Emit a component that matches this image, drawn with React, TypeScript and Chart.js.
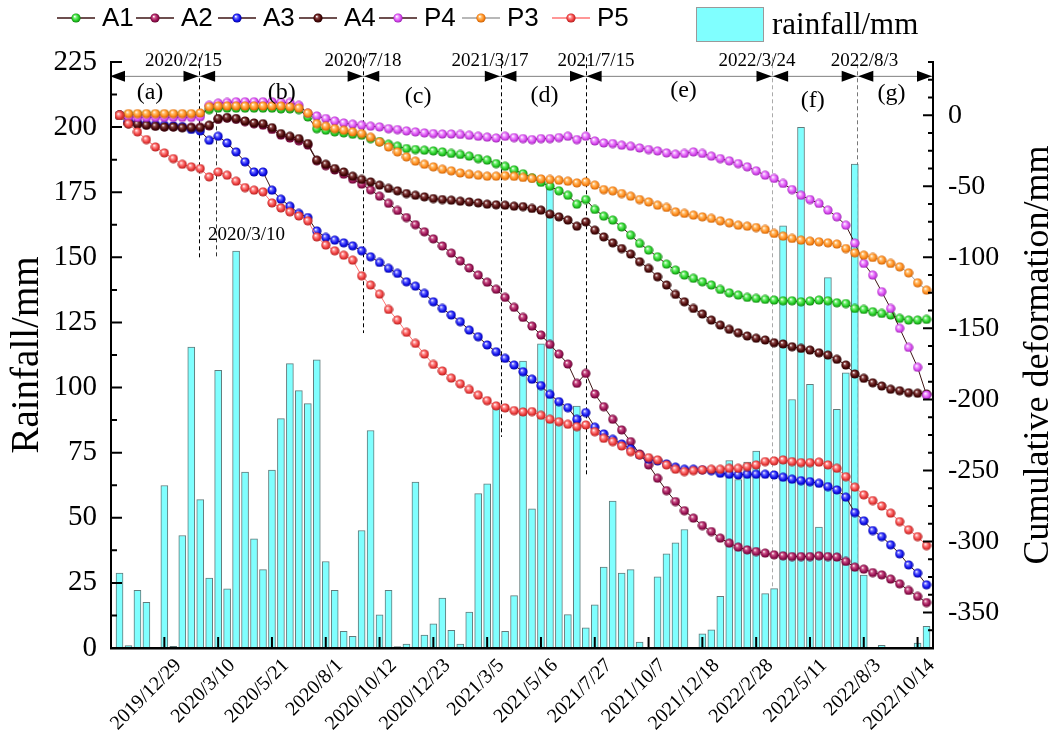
import React, { useEffect, useRef } from 'react';
import { Chart, registerables } from 'chart.js';
Chart.register(...registerables);

// ---- x categories: 12-day sampling index 0..90; labelled ticks ----
const tickIndex = [5, 11, 17, 23, 29, 35, 41, 47, 53, 59, 65, 71, 77, 83, 89];
const tickLabels = ['2019/12/29', '2020/3/10', '2020/5/21', '2020/8/1', '2020/10/12', '2020/12/23', '2021/3/5', '2021/5/16', '2021/7/27', '2021/10/7', '2021/12/18', '2022/2/28', '2022/5/11', '2022/8/3', '2022/10/14'];
const leftTicks = [0, 25, 50, 75, 100, 125, 150, 175, 200, 225];
const rightTicks = [0, -50, -100, -150, -200, -250, -300, -350];

// ---- rainfall (mm) ----
const rainfall = [28.8, 0.9, 22.1, 17.5, 0, 62.4, 0.6, 43.2, 115.5, 57,
  26.8, 106.6, 22.7, 152.4, 67.5, 41.9, 30.1, 68.3, 88.1, 109.2,
  98.8, 93.8, 110.6, 33.2, 22.1, 6.4, 4.5, 45.1, 83.5, 12.7,
  22.1, 0.5, 1.5, 63.7, 5, 9.3, 19.2, 6.8, 1.5, 13.8,
  59.3, 63, 92.9, 6.4, 20.1, 110.2, 53.4, 116.8, 176.5, 93.5,
  12.8, 92.9, 7.7, 16.6, 31.1, 56.4, 28.8, 30.1, 2.3, 0,
  27.3, 36.2, 40.4, 45.5, 0, 5.4, 7, 19.8, 72, 64.7,
  71.4, 75.6, 20.9, 22.8, 162.1, 95.4, 199.9, 101.2, 46.4, 142.2,
  91.6, 105.7, 185.8, 28, 0, 1, 0, 0.3, 0, 1.9,
  8.3];

// ---- cumulative deformation (mm) ----
const A1 = [0, 0.5, 0.5, 0.5, 0.5, 0.5, 0.5, 0.5, 0.5, 0.5,
  4, 5, 5, 5, 5, 5, 5, 5, 4.5, 4.5,
  4, -1.2, -9.4, -10.5, -11.7, -12.4, -13.4, -14.1, -16.4, -18.5,
  -20.4, -21.8, -23.4, -24.1, -24.6, -25.1, -25.8, -26.9, -27.6, -28.8,
  -30.5, -31.6, -34, -35.9, -38.4, -41.2, -44, -47.2, -49.9, -53.2,
  -56.3, -62.6, -59.3, -66.3, -71, -73.8, -78.6, -84.4, -90.2, -94.9,
  -99.6, -104.8, -109, -112.5, -114.8, -117.2, -119.5, -122.6, -125, -126.6,
  -128.2, -128.9, -129.6, -130.1, -130.6, -130.6, -131.3, -130.8, -130.1, -130.6,
  -132, -132.5, -136, -136.7, -138.3, -139.5, -140.6, -143, -144.2, -144.2,
  -143.7];
const A2 = [0, -5.5, -6, -6.8, -7.5, -8, -8, -8.5, -8.5, -8.5,
  -7.5, -2.8, -2, -2.8, -4.5, -6, -7, -10, -14, -16,
  -18, -21, -32, -35.5, -38.5, -41.5, -45, -48.5, -52.5, -57,
  -62, -67, -72, -77, -82, -87, -92, -97, -102.5, -107.5,
  -112.5, -117.5, -122.5, -128.2, -135.2, -142.3, -148.4, -154.7, -161.3, -168.1,
  -175.1, -188.7, -181.7, -196.2, -205.1, -214, -221.5, -229.7, -238.4, -246.1,
  -255.5, -264.2, -271.9, -278.3, -283.6, -288.8, -293, -297.7, -301.2, -304,
  -305.9, -307.1, -308.2, -309.4, -310.1, -310.6, -310.6, -310.6, -310.1, -310.6,
  -311, -314.1, -318.1, -319.5, -321.9, -323.5, -326.5, -329.8, -334.5, -338.7,
  -343];
const A3 = [0, -4, -5, -6, -6.5, -7, -7.5, -8, -10, -11,
  -17.6, -14.8, -19.5, -25.8, -32.8, -39.9, -39.9, -52.7, -59.1, -64,
  -69.1, -72, -81.4, -86, -87.9, -89.8, -91.9, -95.4, -99.6, -103.6,
  -107.8, -111.3, -117.2, -120.3, -125.4, -131.3, -136, -140.6, -145.3, -151.2,
  -155.9, -161.7, -166.5, -171.1, -175.8, -180.5, -185.8, -190.3, -196.5, -201.6,
  -205.8, -214, -209.3, -219.6, -224.3, -228.1, -231.4, -234.9, -239.1, -242.1,
  -243.3, -245.4, -247.7, -249.2, -249.2, -249.6, -250.1, -252, -252.7, -253.2,
  -252.7, -252.7, -252.7, -253.2, -254.8, -256.2, -257.2, -257.9, -259.1, -261.4,
  -263.7, -268.8, -279.7, -285.5, -292.3, -296.6, -302.4, -308.7, -316.5, -322.3,
  -330.5];
const A4 = [0, -5.9, -6.3, -7, -7.7, -8.2, -8.2, -8.7, -8.7, -8.7,
  -7, -2.3, -1.6, -2.3, -4, -5.4, -5.9, -8.7, -12.9, -14.8,
  -16.4, -19.9, -31.6, -34.5, -37.5, -39.9, -42.9, -45.2, -46.9, -49.2,
  -51.5, -53.2, -55.1, -56.3, -57.4, -58.6, -59.3, -59.8, -60.5, -61,
  -61.7, -62.6, -63, -63.3, -64, -64.3, -65.6, -66.8, -69.6, -71.5,
  -73.8, -78.1, -75, -80.9, -85.6, -89.8, -93.8, -97.7, -103.1, -107.8,
  -113.7, -119.5, -126.1, -131.3, -136, -139.9, -144.2, -147.7, -150.7, -153.1,
  -155.4, -157, -158.2, -160.1, -161, -162.9, -164.1, -165.3, -167.2, -168.8,
  -171.8, -175.8, -182.1, -185.2, -188.3, -190.6, -192.9, -193.9, -195.3, -195.7,
  -196.2];
const P4 = [0, -1, -1.5, -1.5, -1.5, -1.5, -1.5, -1.5, -1.5, -1,
  7, 8.5, 9, 9.5, 9.5, 9.5, 9.5, 9.5, 9, 9,
  7, 1.5, -0.5, -2.3, -4, -5.4, -6.3, -7, -7.7, -8.2,
  -9.4, -10.1, -11, -11.7, -12.4, -12.9, -13.2, -13.2, -13.5, -14.1,
  -14.8, -15.4, -16, -14.8, -15.7, -16.4, -17.1, -16.4, -16.4, -15.7,
  -14.8, -17.1, -14.8, -18.1, -19.5, -19.9, -21.1, -21.8, -23, -24.1,
  -25.1, -26.5, -27.4, -26.9, -25.8, -26.9, -28.8, -30.5, -32.1, -34,
  -36.3, -39.1, -42.2, -44.5, -48, -52.3, -56.3, -59.3, -62.1, -66.8,
  -71.5, -77.4, -90, -104.3, -112.5, -124.2, -136, -150, -163.4, -177.4,
  -196.9];
const P3 = [0, 1.2, 1.2, 1.2, 1.2, 1.2, 1.2, 1.2, 1.2, 1.6,
  6, 6.5, 6.5, 6.5, 6.5, 6.5, 6.5, 6.5, 6.5, 6,
  5, 1.5, -5.9, -7.7, -9.4, -10.5, -11.7, -12.9, -15.5, -18.8,
  -22.3, -25.8, -29.3, -32.3, -34.5, -36.3, -38, -39.1, -40.6, -41.5,
  -42.2, -42.9, -42.9, -42.5, -43, -43.8, -44.5, -44.8, -45.2, -45.7,
  -46.4, -47.6, -46.9, -49.2, -52.3, -53.2, -55.1, -57, -59.3, -61,
  -63.3, -64.9, -68, -69.1, -70.3, -71.5, -72.6, -74.3, -75.7, -77.4,
  -78.1, -79, -80.4, -83.2, -85.1, -86.7, -87.9, -88.6, -89.1, -89.8,
  -90.7, -93.8, -96.8, -98.5, -100.1, -102, -104.3, -106.7, -110.9, -117.9,
  -123.1];
const P5 = [0, -5.9, -11.7, -17.1, -22.3, -26.5, -30.5, -34.5, -36.3, -37.5,
  -43.4, -39.9, -42.2, -46.4, -50.9, -52.7, -53.9, -61.7, -65.2, -68,
  -70.9, -74.3, -85.6, -91.4, -95.4, -98.5, -102, -113, -119.5, -125.9,
  -136.7, -144.2, -152.8, -160.6, -168.1, -175.4, -180, -185, -189, -193,
  -197, -200.9, -204.6, -206, -207.9, -208.8, -208.6, -211.2, -214, -215.7,
  -217.5, -219.2, -218, -222.7, -227.4, -229.7, -232.8, -236.8, -239.1, -241,
  -242.6, -246.1, -249.2, -250.8, -250.1, -249.6, -249.2, -249.2, -248.5, -248.5,
  -247.3, -246.1, -243.8, -243.3, -242.6, -243.8, -244.5, -244.5, -244.2, -246.1,
  -248.5, -254.4, -261.8, -267.2, -271.2, -275, -280.1, -286, -291.8, -296.6,
  -302.9];

const seriesNames = ['A1', 'A2', 'A3', 'A4', 'P4', 'P3', 'P5'];
const seriesValues = [A1, A2, A3, A4, P4, P3, P5];

// ---- styles ----
const ballColors = [
  ['#22cc22', '#77f077', '#0b6e0b'],
  ['#991155', '#cc5588', '#550022'],
  ['#1010ee', '#6a6aff', '#000088'],
  ['#4a0808', '#8a4444', '#200000'],
  ['#d848f0', '#f0a0ff', '#8a1aa0'],
  ['#ff8a1a', '#ffc070', '#b85400'],
  ['#ee3c3c', '#ff9090', '#a01818'],
];
const lineColors = ['#3d1414', '#3d1414', '#3d1414', '#3d1414', '#3d1414', '#a0a0a0', '#ff7474'];

// ---- annotation definitions (x in sample index units, y in deformation units) ----
const periodBounds = [8.9, 27.2, 42.5, 52.0, 72.8, 82.3];
const periodDates = ['2020/2/15', '2020/7/18', '2021/3/17', '2021/7/15', '2022/3/24', '2022/8/3'];
const periodDateX = [7.14, 27.16, 41.32, 53.14, 71.09, 83.08];
const periodNames = ['(a)', '(b)', '(c)', '(d)', '(e)', '(f)', '(g)'];
const periodNameX = [3.4, 18.1, 33.3, 47.4, 62.9, 77.3, 86.1];
const periodNameY = [16.2, 16.2, 12.9, 14.1, 17.6, 10.5, 15.3];
const guideLines = [
  { at: 8.9, from: 40.8, to: -101.3, color: '#000' },
  { at: 10.8, from: 7, to: -100.6, color: '#333' },
  { at: 27.2, from: 40.8, to: -153.3, color: '#000' },
  { at: 42.5, from: 40.8, to: -226.4, color: '#000' },
  { at: 52.0, from: 40.8, to: -253.2, color: '#000' },
  { at: 72.8, from: 40.8, to: -340, color: '#aaa' },
  { at: 82.3, from: 40.8, to: -322, color: '#777' },
];

const SERIF = "'Liberation Serif', 'Times New Roman', serif";
const SANS = "'Liberation Sans', Arial, sans-serif";

function makeBall(c: string[]) {
  const d = 10;
  const cv = document.createElement('canvas');
  cv.width = d; cv.height = d;
  const g = cv.getContext('2d')!;
  const grad = g.createRadialGradient(3.7, 3.4, 0.2, 5, 5, 5);
  grad.addColorStop(0, '#ffffff');
  grad.addColorStop(0.28, c[1]);
  grad.addColorStop(0.65, c[0]);
  grad.addColorStop(1, c[2]);
  g.fillStyle = grad;
  g.beginPath();
  g.arc(5, 5, 4.6, 0, Math.PI * 2);
  g.fill();
  return cv;
}

export default function App() {
  const ref = useRef<HTMLCanvasElement>(null);
  useEffect(() => {
    const canvas = ref.current!;
    const balls = ballColors.map(makeBall);

    const overlay = {
      id: 'overlay',
      beforeDatasetsDraw(chart: any) {
        const { ctx } = chart;
        const xs = chart.scales.x, yr = chart.scales.y1;
        ctx.save();
        ctx.lineWidth = 1;
        ctx.setLineDash([4, 3]);
        for (const d of guideLines) {
          const x = Math.round(xs.getPixelForValue(d.at)) + 0.5;
          ctx.strokeStyle = d.color;
          ctx.beginPath();
          ctx.moveTo(x, yr.getPixelForValue(d.from));
          ctx.lineTo(x, yr.getPixelForValue(d.to));
          ctx.stroke();
        }
        ctx.restore();
      },
      afterDatasetsDraw(chart: any) {
        const { ctx, chartArea: ca } = chart;
        const xs = chart.scales.x, yr = chart.scales.y1, yl = chart.scales.y;
        ctx.save();
        ctx.setLineDash([]);
        // tick marks (inward)
        ctx.strokeStyle = '#000';
        ctx.lineWidth = 2;
        ctx.beginPath();
        for (let v = 0; v <= 225; v += 12.5) {
          const y = yl.getPixelForValue(v);
          const len = v % 25 === 0 ? 11 : 6;
          ctx.moveTo(ca.left, y); ctx.lineTo(ca.left + len, y);
        }
        for (let v = -375; v <= 37.5; v += 12.5) {
          const y = yr.getPixelForValue(v);
          const len = v % 50 === 0 ? 10 : 5;
          ctx.moveTo(ca.right, y); ctx.lineTo(ca.right - len, y);
        }
        for (const t of tickIndex) {
          const x = xs.getPixelForValue(t);
          ctx.moveTo(x, ca.bottom); ctx.lineTo(x, ca.bottom - 11);
        }
        ctx.stroke();

        // period arrows
        const ay = yr.getPixelForValue(27.4);
        const bx = [ca.left - 1, ...periodBounds.map((b) => xs.getPixelForValue(b)), ca.right - 1];
        ctx.strokeStyle = '#808080';
        ctx.lineWidth = 1;
        ctx.beginPath();
        ctx.moveTo(bx[0], ay); ctx.lineTo(bx[bx.length - 1], ay);
        ctx.stroke();
        ctx.fillStyle = '#000';
        const tri = (tip: number, dir: number) => {
          ctx.beginPath();
          ctx.moveTo(tip, ay);
          ctx.lineTo(tip + dir * 15, ay - 5.5);
          ctx.lineTo(tip + dir * 15, ay + 5.5);
          ctx.closePath();
          ctx.fill();
        };
        for (let k = 0; k < bx.length - 1; k++) {
          tri(bx[k] + (k === 0 ? 0 : 0.8), 1);
          tri(bx[k + 1] - (k === bx.length - 2 ? 0 : 0.8), -1);
        }

        // period texts
        ctx.fillStyle = '#000';
        ctx.textAlign = 'center';
        ctx.textBaseline = 'middle';
        ctx.font = `19px ${SERIF}`;
        periodDates.forEach((t, k) => {
          ctx.fillText(t, xs.getPixelForValue(periodDateX[k]), yr.getPixelForValue(38));
        });
        ctx.font = `24px ${SERIF}`;
        periodNames.forEach((t, k) => {
          ctx.fillText(t, xs.getPixelForValue(periodNameX[k]), yr.getPixelForValue(periodNameY[k]));
        });
        ctx.textAlign = 'left';
        ctx.font = `19px ${SERIF}`;
        ctx.fillText('2020/3/10', xs.getPixelForValue(9.87), yr.getPixelForValue(-84.4));

        // axis titles
        ctx.textAlign = 'center';
        ctx.textBaseline = 'alphabetic';
        ctx.font = `39px ${SERIF}`;
        ctx.save();
        ctx.translate(38, (ca.top + ca.bottom) / 2);
        ctx.rotate(-Math.PI / 2);
        ctx.fillText('Rainfall/mm', 0, 0);
        ctx.restore();
        ctx.font = `36px ${SERIF}`;
        ctx.save();
        ctx.translate(1048, (ca.top + ca.bottom) / 2);
        ctx.rotate(-Math.PI / 2);
        ctx.fillText('Cumulative deformation/mm', 0, 0);
        ctx.restore();

        // legend
        const lgX = [76, 155, 237, 318, 398, 481, 571];
        const lgY = 18;
        ctx.font = `26px ${SANS}`;
        ctx.textAlign = 'left';
        ctx.textBaseline = 'middle';
        seriesNames.forEach((n, k) => {
          const cx = lgX[k];
          ctx.strokeStyle = lineColors[k];
          ctx.lineWidth = 1.3;
          ctx.beginPath();
          ctx.moveTo(cx - 19, lgY); ctx.lineTo(cx + 19, lgY);
          ctx.stroke();
          ctx.drawImage(balls[k], cx - 5, lgY - 5);
          ctx.fillStyle = '#000';
          ctx.fillText(n, cx + 26, lgY + 1);
        });
        ctx.fillStyle = '#80ffff';
        ctx.fillRect(696, 7, 68, 35);
        ctx.strokeStyle = '#9a9a9a';
        ctx.lineWidth = 1;
        ctx.strokeRect(696.5, 7.5, 67, 34);
        ctx.fillStyle = '#000';
        ctx.font = `31px ${SERIF}`;
        ctx.fillText('rainfall/mm', 772, 26);
        ctx.restore();
      },
    };

    const lineSets = seriesValues.map((vals, k) => ({
      type: 'line' as const,
      label: seriesNames[k],
      data: vals.map((v, i) => ({ x: i, y: v })),
      yAxisID: 'y1',
      xAxisID: 'x',
      borderColor: lineColors[k],
      borderWidth: 1,
      pointStyle: balls[k],
      pointRadius: 4.6,
      tension: 0,
      order: 7 - k,
    }));

    const chart = new Chart(canvas, {
      type: 'line',
      data: {
        datasets: [
          {
            type: 'bar' as const,
            label: 'rainfall/mm',
            data: rainfall.map((v, i) => ({ x: i, y: v })),
            yAxisID: 'y',
            xAxisID: 'x',
            backgroundColor: '#80ffff',
            borderColor: 'rgba(70,100,100,0.85)',
            borderWidth: 1,
            barThickness: 7,
            order: 20,
          } as any,
          ...lineSets,
        ],
      },
      options: {
        responsive: false,
        devicePixelRatio: 1,
        animation: false,
        events: [],
        layout: { padding: { top: 62, left: 0, right: 0, bottom: 0 } },
        plugins: { legend: { display: false }, tooltip: { enabled: false } },
        scales: {
          x: {
            type: 'linear',
            min: -0.95,
            max: 90.72,
            offset: false,
            grid: { display: false, drawTicks: false },
            border: { display: true, color: '#000', width: 2.5, z: 1 },
            afterBuildTicks: (s: any) => { s.ticks = tickIndex.map((v) => ({ value: v })); },
            afterFit: (s: any) => { s.height = 84; },
            ticks: {
              autoSkip: false,
              minRotation: 45,
              maxRotation: 45,
              padding: 6,
              labelOffset: 14,
              color: '#000',
              font: { family: SERIF, size: 20 },
              callback: (v: any) => { const k = tickIndex.indexOf(Number(v)); return k >= 0 ? tickLabels[k] : ''; },
            },
          },
          y: {
            type: 'linear',
            position: 'left',
            min: 0,
            max: 225,
            grid: { display: false, drawTicks: false },
            border: { display: true, color: '#000', width: 2, z: 1 },
            afterBuildTicks: (s: any) => { s.ticks = leftTicks.map((v) => ({ value: v })); },
            afterFit: (s: any) => { s.width = 111; },
            ticks: { padding: 14, color: '#000', font: { family: SERIF, size: 29 } },
          },
          y1: {
            type: 'linear',
            position: 'right',
            min: -375,
            max: 37.5,
            grid: { display: false, drawTicks: false },
            border: { display: true, color: '#000', width: 2, z: 1 },
            afterBuildTicks: (s: any) => { s.ticks = rightTicks.map((v) => ({ value: v })); },
            afterFit: (s: any) => { s.width = 123; },
            ticks: { padding: 15, color: '#000', font: { family: SERIF, size: 28 } },
          },
        },
      } as any,
      plugins: [overlay],
    });
    return () => chart.destroy();
  }, []);

  return (
    <div style={{ position: 'fixed', left: 0, top: 0, width: 1056, height: 732, background: '#fff' }}>
      <canvas ref={ref} width={1056} height={732} style={{ display: 'block', width: 1056, height: 732 }} />
    </div>
  );
}
